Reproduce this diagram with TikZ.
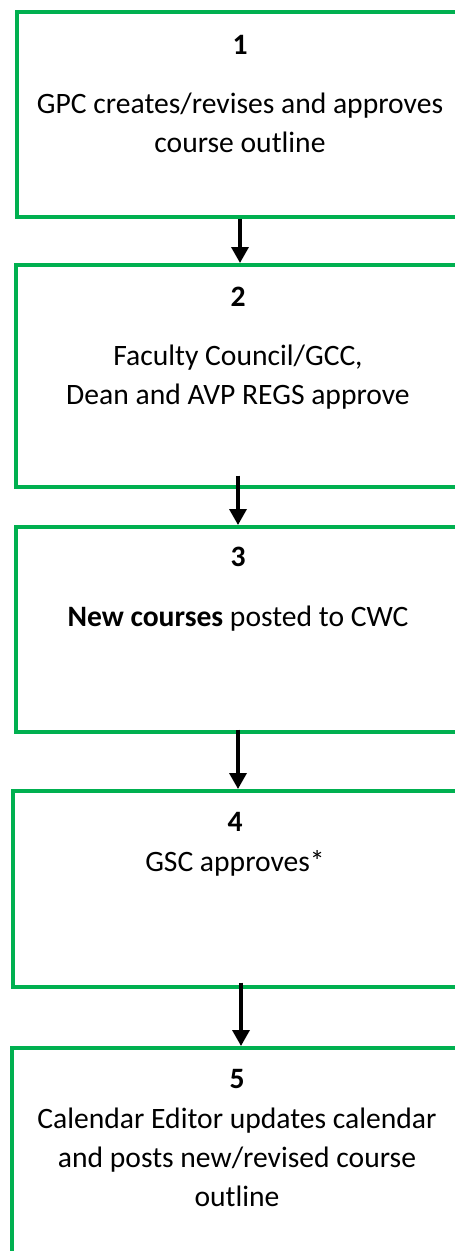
\documentclass[tikz,border=0pt]{standalone}
\usepackage{fontspec}
\setmainfont{Carlito}
\usetikzlibrary{arrows.meta,calc}
\definecolor{stagegreen}{HTML}{00B050}
\tikzset{
  stagebox/.style={draw=stagegreen, line width=3.5pt, anchor=north west,
    minimum width=450pt, inner sep=0pt},
  stagenum/.style={font=\fontsize{29.6}{39}\selectfont\bfseries},
  stagetext/.style={font=\fontsize{29.6}{39}\selectfont, align=center},
  flow/.style={line width=3.4pt, -{Triangle[width=17pt,length=16pt]}}
}
\begin{document}
\begin{tikzpicture}[x=1pt,y=-1pt]
\clip (0,0) rectangle (455,1251);
% boxes
\node[stagebox, minimum height=205pt] (b1) at (15,10) {};
\node[stagebox, minimum height=222pt] (b2) at (14,263) {};
\node[stagebox, minimum height=205pt] (b3) at (14,525) {};
\node[stagebox, minimum height=196pt] (b4) at (11,789) {};
\node[stagebox, minimum height=300pt] (b5) at (10,1046) {};
% texts
\node[stagenum] (n1) at (240,45) {1};
\node[stagetext] (t1) at (240,123) {GPC creates/revises and approves\\course outline};
\node[stagenum] (n2) at (238,297) {2};
\node[stagetext] (t2) at (238,377) {Faculty Council/GCC,\\Dean and AVP REGS approve};
\node[stagenum] (n3) at (238,557) {3};
\node[stagetext] (t3) at (238,619) {\textbf{New courses} posted to CWC};
\node[stagenum] (n4) at (235,822) {4};
\node[stagetext] (t4) at (235,863) {GSC approves*};
\node[stagenum] (n5) at (237,1079) {5};
\node[stagetext] (t5) at (237,1157) {Calendar Editor updates calendar\\and posts new/revised course\\outline};
% arrows
\draw[flow] (b1.south -| 240,0) -- (b2.north -| 240,0);
\draw[flow, shorten <=-13pt] (b2.south -| 238,0) -- (b3.north -| 238,0);
\draw[flow, shorten <=-4pt] (b3.south -| 238,0) -- (b4.north -| 238,0);
\draw[flow, shorten <=-6pt] (b4.south -| 241,0) -- (b5.north -| 241,0);
\end{tikzpicture}
\end{document}
